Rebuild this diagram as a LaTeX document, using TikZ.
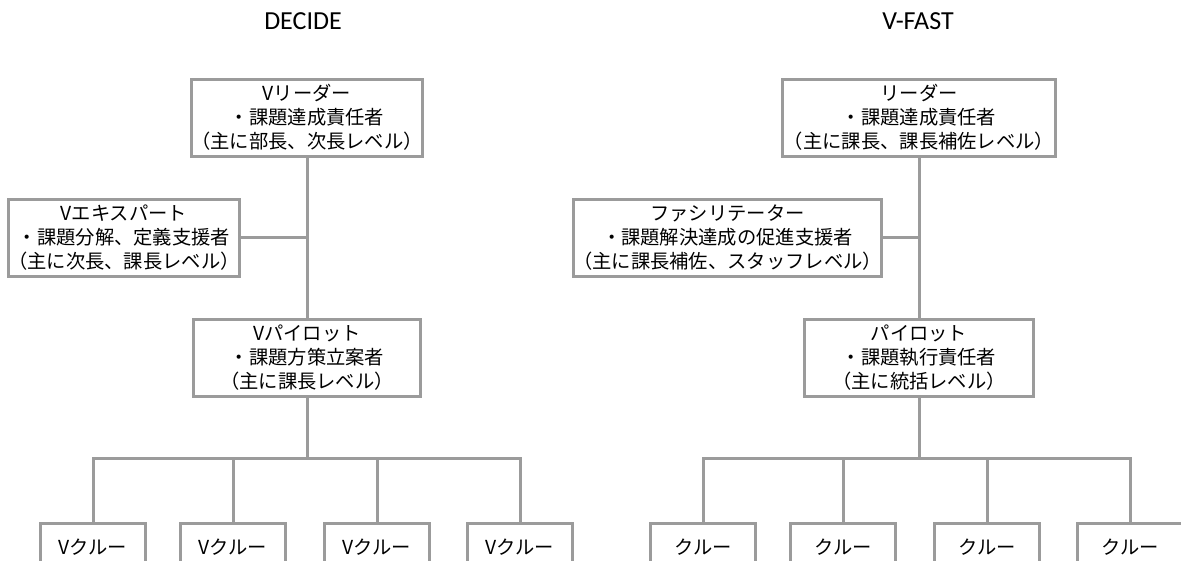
\documentclass[tikz,border=0pt]{standalone}
\usepackage{fontspec}
\setmainfont{Carlito}
\newfontfamily\jp{Noto Sans CJK JP}
\definecolor{linegray}{RGB}{155,155,155}
\begin{document}
\begin{tikzpicture}[x=1pt,y=-1pt,
  ln/.style={draw=linegray, line width=3pt},
  box/.style={draw=linegray, line width=3pt, fill=white, inner sep=0pt, align=center,
    font=\jp\fontsize{19.3pt}{24pt}\selectfont},
  crew/.style={box, minimum width=105pt, minimum height=48pt},
  ttl/.style={font=\fontsize{26pt}{30pt}\selectfont, anchor=base, inner sep=0pt}]
\useasboundingbox (0,0) rectangle (1181,560);
\clip (0,0) rectangle (1181,560);
% titles
\node[ttl] (t1) at (303,29) {DECIDE};
\node[ttl] (t2) at (918,29) {V-FAST};
% DECIDE
\node[box, minimum width=227pt, minimum height=77pt] (ldr1) at (307,117.5)
  {Vリーダー\\・課題達成責任者\\（主に部長、次長レベル）};
\node[box, minimum width=225pt, minimum height=77pt] (exp1) at (124,237.5)
  {Vエキスパート\\・課題分解、定義支援者\\（主に次長、課長レベル）};
\node[box, minimum width=227pt, minimum height=77pt] (plt1) at (307,357.5)
  {Vパイロット\\・課題方策立案者\\（主に課長レベル）};
\coordinate (bus1) at (307,458);
\node[crew] (c11) at (93,547) {Vクルー};
\node[crew] (c12) at (233,547) {Vクルー};
\node[crew] (c13) at (377,547) {Vクルー};
\node[crew] (c14) at (520,547) {Vクルー};
\draw[ln] (ldr1.south) -- (plt1.north);
\draw[ln] (exp1.east) -- (exp1.east -| ldr1.south);
\draw[ln] (plt1.south) -- (bus1);
\draw[ln] (c11.north) |- (c14.north |- bus1) -- (c14.north);
\draw[ln] (c12.north) -- (c12.north |- bus1);
\draw[ln] (c13.north) -- (c13.north |- bus1);
% V-FAST
\node[box, minimum width=273pt, minimum height=77pt] (ldr2) at (919,117.5)
  {リーダー\\・課題達成責任者\\（主に課長、課長補佐レベル）};
\node[box, minimum width=306pt, minimum height=77pt] (exp2) at (727.5,237.5)
  {ファシリテーター\\・課題解決達成の促進支援者\\（主に課長補佐、スタッフレベル）};
\node[box, minimum width=229pt, minimum height=77pt] (plt2) at (919,357.5)
  {パイロット\\・課題執行責任者\\（主に統括レベル）};
\coordinate (bus2) at (919,458);
\node[crew] (c21) at (703,547) {クルー};
\node[crew] (c22) at (843,547) {クルー};
\node[crew] (c23) at (987,547) {クルー};
\node[crew] (c24) at (1130,547) {クルー};
\draw[ln] (ldr2.south) -- (plt2.north);
\draw[ln] (exp2.east) -- (exp2.east -| ldr2.south);
\draw[ln] (plt2.south) -- (bus2);
\draw[ln] (c21.north) |- (c24.north |- bus2) -- (c24.north);
\draw[ln] (c22.north) -- (c22.north |- bus2);
\draw[ln] (c23.north) -- (c23.north |- bus2);
\end{tikzpicture}
\end{document}
